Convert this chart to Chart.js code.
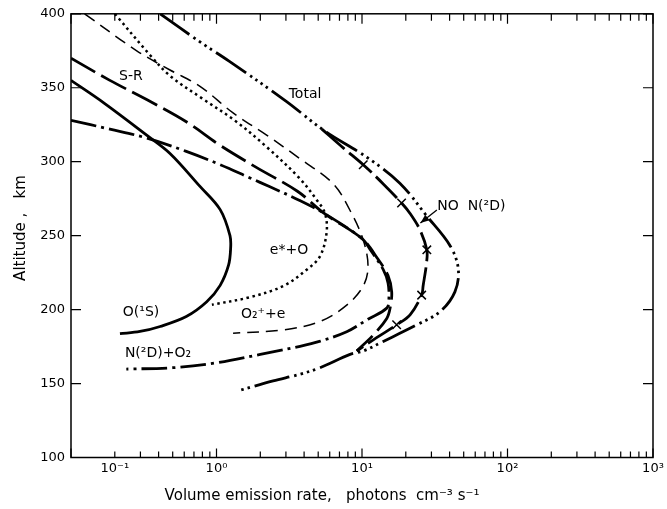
<!DOCTYPE html>
<html>
<head>
<meta charset="utf-8">
<title>Volume emission rate vs altitude</title>
<script src="https://cdn.jsdelivr.net/npm/chart.js@4.4.1/dist/chart.umd.min.js"></script>
<style>
  html, body { margin: 0; padding: 0; background: #fff; }
  #chart { display: block; }
</style>
</head>
<body>
<canvas id="chart" width="667" height="509"></canvas>
<script>
// emission rates (photons cm-3 s-1) against altitude (km)
const o1sRate = [0.1, 0.167, 0.331, 0.479, 0.77, 1.06, 1.238, 1.25, 1.21, 1.06, 0.857, 0.62, 0.41, 0.298, 0.217];
const o1sAlt = [355, 340, 318, 305.6, 283.3, 267.6, 250, 241, 230, 216.4, 205.3, 195.3, 188.6, 185.2, 183.7];

const srRate = [0.1, 0.185, 0.331, 0.62, 1.06, 1.89, 3.6, 5.5, 10, 12.9, 15.1, 16, 15.6, 14.8, 12, 9.2];
const srAlt = [370, 355, 342, 327, 311, 296, 280, 265, 248, 234, 223, 212, 201, 194, 183, 172];

const n2dO2Rate = [0.1, 0.185, 0.331, 0.62, 1.06, 1.7, 2.33, 3.7, 5.5, 10, 11.5, 14, 15.1, 15.3, 14.8, 11, 7.85, 5.1, 3.75, 2, 1, 0.5, 0.24];
const n2dO2Alt = [328, 322, 316, 307, 298, 289, 283, 274, 265, 248, 240, 227, 218, 207, 201, 193.5, 185, 178.5, 175.2, 169.7, 164, 160.7, 159.8];

const eImpactRate = [0.2, 0.35, 0.48, 0.79, 1.33, 2.21, 3.7, 4.9, 5.57, 5.71, 5.14, 4.17, 2.88, 1.7, 0.93];
const eImpactAlt = [400, 372, 358, 343, 328, 310, 289, 274, 265, 252, 236, 227, 216, 208.4, 203.3];

const o2RecRate = [0.124, 0.283, 0.479, 0.77, 1.3, 2.21, 3.75, 6.35, 8.28, 10.2, 11, 10.2, 7.85, 5.14, 2.88, 1.3];
const o2RecAlt = [400, 375, 362, 351, 333, 318, 302, 285, 267, 247, 229, 216, 203, 192, 186.3, 184];

const totalRate = [0.41, 0.77, 1.22, 3.0, 5.5, 10.8, 18.2, 27.9, 40.3, 45.9, 43.5, 34.4, 23.8, 14, 10.2, 8.28, 5.14, 3.75, 2.45, 1.41];
const totalAlt = [400, 381, 368, 341, 321, 303, 285.5, 263.2, 243.2, 227.5, 212, 198.6, 189.7, 178.5, 172, 169.7, 160.7, 156.3, 151.8, 145.1];

const noN2dRate = [5.3, 7.5, 10.2, 14, 18.7, 21.4, 25, 27.9, 27.8, 26.3, 25.7, 21.4, 17.3, 12.6, 9.2];
const noN2dAlt = [322, 309, 297.9, 285, 272.1, 265, 254, 240.4, 232, 216, 209.8, 196.5, 189.7, 181, 172];

// the X marks
const markRate = [10.2, 18.7, 27.9, 25.7, 17.3];
const markAlt = [297.9, 272.1, 240.4, 209.8, 189.7];

// axis ticks
const xTicks = [0.1, 0.2, 0.3, 0.4, 0.5, 0.6, 0.7, 0.8, 0.9,
  1, 2, 3, 4, 5, 6, 7, 8, 9,
  10, 20, 30, 40, 50, 60, 70, 80, 90,
  100, 200, 300, 400, 500, 600, 700, 800, 900, 1000];
const xLabelAt = [0.2, 1, 10, 100, 1000];
const xLabelText = ['10⁻¹', '10⁰', '10¹', '10²', '10³'];

// curve names, placed at (rate, altitude)
const curveLabels = [
  { text: 'Total', x: 4.06, y: 345.6, align: 'center' },
  { text: 'S-R', x: 0.258, y: 358, align: 'center' },
  { text: 'O(¹S)', x: 0.303, y: 198, align: 'center' },
  { text: 'e*+O', x: 3.15, y: 240, align: 'center' },
  { text: 'O₂⁺+e', x: 2.09, y: 197, align: 'center' },
  { text: 'N(²D)+O₂', x: 0.396, y: 170.5, align: 'center' },
  { text: 'NO  N(²D)', x: 32.9, y: 269.5, align: 'left' }
];
const pointerFrom = { x: 32.7, y: 267.4 };
const pointerTo = { x: 25.2, y: 258.5 };

function pairs(rate, alt) {
  return rate.map((r, i) => ({ x: r, y: alt[i] }));
}

function curve(label, rate, alt, width, dash) {
  return {
    label: label,
    data: pairs(rate, alt),
    borderColor: '#000',
    borderWidth: width,
    borderDash: dash,
    borderCapStyle: 'butt',
    pointRadius: 0,
    fill: false,
    tension: 0.35
  };
}

const decor = {
  id: 'decor',
  beforeDraw(chart) {
    const ctx = chart.ctx;
    ctx.save();
    ctx.fillStyle = '#fff';
    ctx.fillRect(0, 0, chart.width, chart.height);
    ctx.restore();
  },
  afterDatasetsDraw(chart) {
    const { ctx, chartArea: a, scales: { x, y } } = chart;
    ctx.save();
    ctx.strokeStyle = '#000';
    ctx.lineWidth = 1.5;
    ctx.strokeRect(a.left, a.top, a.right - a.left, a.bottom - a.top);

    // inward ticks on all four sides
    ctx.lineWidth = 1.2;
    ctx.beginPath();
    x.ticks.forEach(t => {
      const px = x.getPixelForValue(t.value);
      const lg = Math.log10(t.value);
      const major = Math.abs(lg - Math.round(lg)) < 1e-6;
      ctx.moveTo(px, a.bottom); ctx.lineTo(px, a.bottom - (major ? 9 : 6));
      ctx.moveTo(px, a.top); ctx.lineTo(px, a.top + (major ? 10 : 7));
    });
    y.ticks.forEach(t => {
      const py = y.getPixelForValue(t.value);
      ctx.moveTo(a.left, py); ctx.lineTo(a.left + 10, py);
      ctx.moveTo(a.right, py); ctx.lineTo(a.right - 10, py);
    });
    ctx.stroke();

    // curve names
    ctx.fillStyle = '#000';
    ctx.font = '14px "DejaVu Sans"';
    ctx.textBaseline = 'middle';
    curveLabels.forEach(l => {
      ctx.textAlign = l.align;
      ctx.fillText(l.text, x.getPixelForValue(l.x), y.getPixelForValue(l.y));
    });

    // pointer from "NO N(2D)" to its curve
    const x0 = x.getPixelForValue(pointerFrom.x), y0 = y.getPixelForValue(pointerFrom.y);
    const x1 = x.getPixelForValue(pointerTo.x), y1 = y.getPixelForValue(pointerTo.y);
    ctx.lineWidth = 1.3;
    ctx.beginPath();
    ctx.moveTo(x0, y0); ctx.lineTo(x1, y1);
    ctx.stroke();
    const ang = Math.atan2(y1 - y0, x1 - x0);
    ctx.beginPath();
    ctx.moveTo(x1, y1);
    ctx.lineTo(x1 - 9 * Math.cos(ang) + 3.5 * Math.sin(ang), y1 - 9 * Math.sin(ang) - 3.5 * Math.cos(ang));
    ctx.lineTo(x1 - 9 * Math.cos(ang) - 3.5 * Math.sin(ang), y1 - 9 * Math.sin(ang) + 3.5 * Math.cos(ang));
    ctx.closePath();
    ctx.fill();

    // axis titles
    ctx.font = '15px "DejaVu Sans"';
    ctx.textAlign = 'center';
    ctx.fillText('Volume emission rate,   photons  cm⁻³ s⁻¹', 322, 496);
    ctx.translate(21, 228);
    ctx.rotate(-Math.PI / 2);
    ctx.fillText('Altitude ,   km', 0, 0);
    ctx.restore();
  }
};

const ctx = document.getElementById('chart');
new Chart(ctx, {
  type: 'line',
  data: {
    datasets: [
      curve('O(1S)', o1sRate, o1sAlt, 2.8, []),
      curve('S-R', srRate, srAlt, 2.8, [28, 7]),
      curve('N(2D)+O2', n2dO2Rate, n2dO2Alt, 2.8, [26, 5, 3, 5]),
      curve('e*+O', eImpactRate, eImpactAlt, 2.5, [2.5, 3.5]),
      curve('O2+ + e', o2RecRate, o2RecAlt, 1.5, [12, 7]),
      curve('Total', totalRate, totalAlt, 2.8, [36, 5, 2.5, 4, 2.5, 4, 2.5, 4, 2.5, 5]),
      curve('NO N(2D)', noN2dRate, noN2dAlt, 2.8, [30, 6]),
      {
        label: 'marks',
        data: pairs(markRate, markAlt),
        showLine: false,
        pointStyle: 'crossRot',
        pointRadius: 6,
        pointBorderWidth: 1.5,
        pointBorderColor: '#000',
        pointBackgroundColor: '#000'
      }
    ]
  },
  options: {
    responsive: false,
    devicePixelRatio: 1,
    animation: false,
    layout: { padding: { top: 9, right: 14, left: 0, bottom: 0 } },
    plugins: {
      legend: { display: false },
      tooltip: { enabled: false }
    },
    scales: {
      x: {
        type: 'logarithmic',
        min: 0.1,
        max: 1000,
        grid: { display: false, drawTicks: false },
        border: { display: false },
        afterBuildTicks: scale => {
          scale.ticks = xTicks.map(v => ({ value: v }));
        },
        afterFit: scale => {
          scale.height = 51.5;
          scale.paddingLeft = 0;
          scale.paddingRight = 0;
        },
        ticks: {
          autoSkip: false,
          maxRotation: 0,
          padding: 3,
          color: '#000',
          font: { family: 'DejaVu Sans', size: 13 },
          callback: v => {
            const i = xLabelAt.findIndex(a => Math.abs(v - a) < a * 1e-6);
            return i >= 0 ? xLabelText[i] : '';
          }
        }
      },
      y: {
        type: 'linear',
        min: 100,
        max: 400,
        grid: { display: false, drawTicks: false },
        border: { display: false },
        afterFit: scale => { scale.width = 71; },
        ticks: {
          stepSize: 50,
          padding: 6,
          color: '#000',
          font: { family: 'DejaVu Sans', size: 13 }
        }
      }
    }
  },
  plugins: [decor]
});
</script>
</body>
</html>
